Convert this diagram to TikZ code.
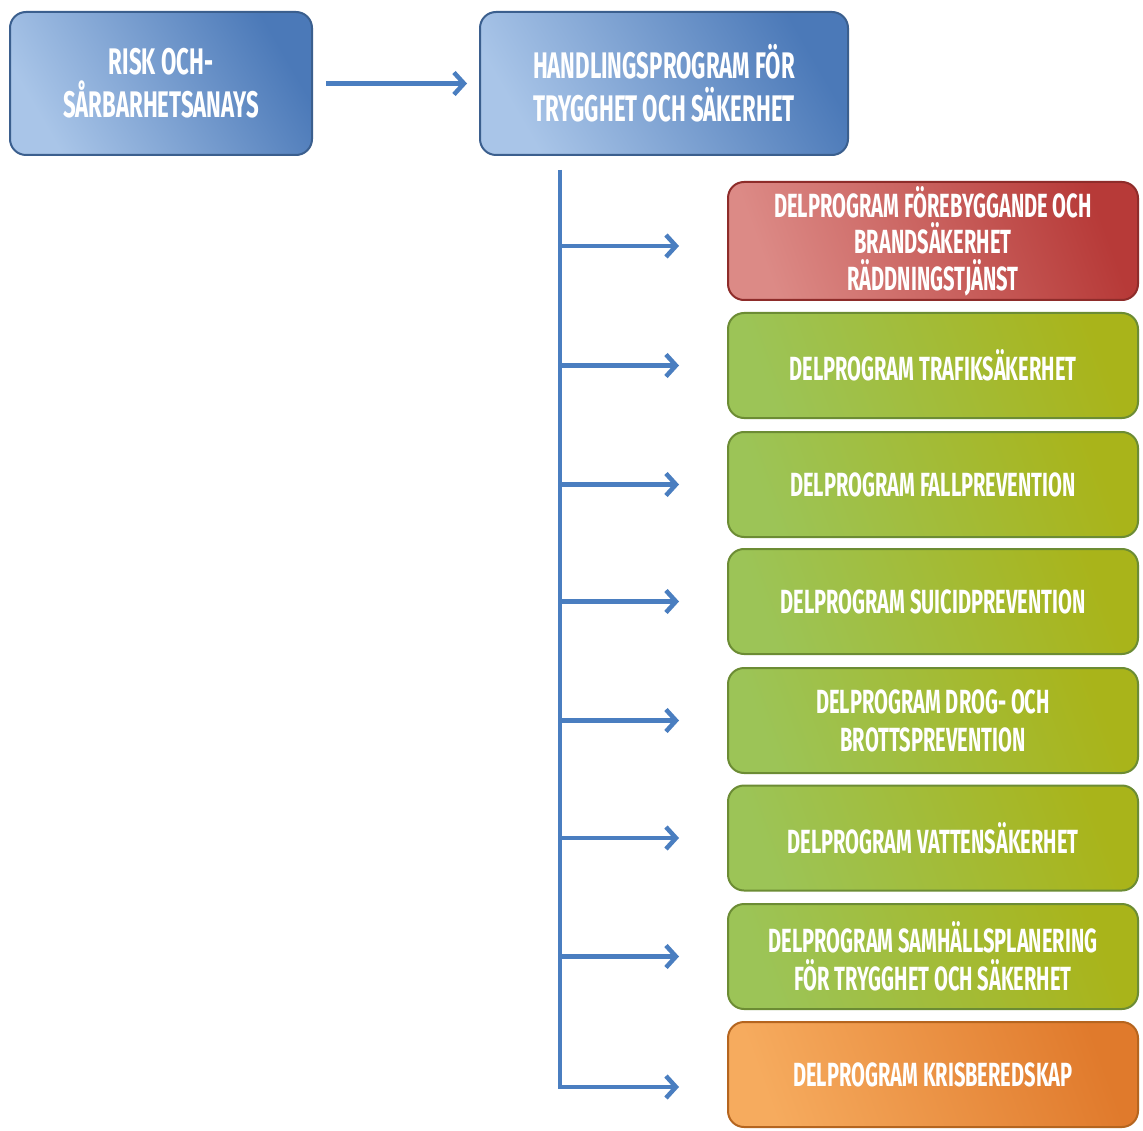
\documentclass[tikz,border=0pt]{standalone}
\usepackage{fontspec}
\setmainfont[FakeStretch=0.6]{Fira Sans}
\usetikzlibrary{arrows.meta}
\definecolor{bluelight}{HTML}{A9C5E8}
\definecolor{bluedark}{HTML}{4B79B8}
\definecolor{blueborder}{HTML}{3B5F8E}
\definecolor{redlight}{HTML}{DC8A86}
\definecolor{reddark}{HTML}{B73A38}
\definecolor{redborder}{HTML}{8E2C2A}
\definecolor{greenlight}{HTML}{9CC457}
\definecolor{greendark}{HTML}{A9B41A}
\definecolor{greenborder}{HTML}{6C8C34}
\definecolor{orangelight}{HTML}{F6AB5E}
\definecolor{orangedark}{HTML}{E07A2C}
\definecolor{orangeborder}{HTML}{B5651F}
\definecolor{arrowblue}{HTML}{4A7EC0}
\tikzset{
  x=1pt, y=-1pt,
  basebox/.style={rounded corners=16pt, line width=2pt, inner sep=0pt, align=center,
    text=white, font=\fontsize{33.5}{38}\selectfont\bfseries, shading=axis},
  bluebox/.style={basebox, draw=blueborder, left color=bluelight, right color=bluedark, shading angle=120,
    font=\fontsize{37}{43}\selectfont\bfseries},
  redbox/.style={basebox, draw=redborder, left color=redlight, right color=reddark, shading angle=110,
    minimum width=410pt, minimum height=118pt, font=\fontsize{33.5}{36.5}\selectfont\bfseries},
  greenbox/.style={basebox, draw=greenborder, left color=greenlight, right color=greendark, shading angle=110,
    minimum width=410pt, minimum height=105pt},
  orangebox/.style={basebox, draw=orangeborder, left color=orangelight, right color=orangedark, shading angle=110,
    minimum width=410pt, minimum height=105pt},
  arr/.style={draw=arrowblue, line width=4.5pt, -{Straight Barb[length=10pt,width=22pt,line width=4.5pt]}},
  trunkline/.style={draw=arrowblue, line width=4pt}
}
\begin{document}
\begin{tikzpicture}
\useasboundingbox[fill=white] (0,0) rectangle (1143,1131);
\node[bluebox, minimum width=302pt, minimum height=143pt] (risk) at (161,83.5) {RISK OCH-\\SÅRBARHETSANAYS};
\node[bluebox, minimum width=368pt, minimum height=143pt] (hp) at (664,83.5) {HANDLINGSPROGRAM FÖR\\TRYGGHET OCH SÄKERHET};
\node[redbox] (d1) at (933,241) {DELPROGRAM FÖREBYGGANDE OCH\\BRANDSÄKERHET\\RÄDDNINGSTJÄNST};
\node[greenbox] (d2) at (933,365.5) {DELPROGRAM TRAFIKSÄKERHET};
\node[greenbox] (d3) at (933,484.5) {DELPROGRAM FALLPREVENTION};
\node[greenbox] (d4) at (933,601.5) {DELPROGRAM SUICIDPREVENTION};
\node[greenbox] (d5) at (933,720.5) {DELPROGRAM DROG- OCH\\BROTTSPREVENTION};
\node[greenbox] (d6) at (933,838) {DELPROGRAM VATTENSÄKERHET};
\node[greenbox] (d7) at (933,956.5) {DELPROGRAM SAMHÄLLSPLANERING\\FÖR TRYGGHET OCH SÄKERHET};
\node[orangebox] (d8) at (933,1074.5) {DELPROGRAM KRISBEREDSKAP};
\draw[arr, shorten <=13pt, shorten >=12pt] (risk) -- (hp);
\coordinate (top) at (560,170);
\coordinate (j1) at (560,246);
\coordinate (j2) at (560,365.5);
\coordinate (j3) at (560,484.5);
\coordinate (j4) at (560,601.5);
\coordinate (j5) at (560,720.5);
\coordinate (j6) at (560,838);
\coordinate (j7) at (560,956.5);
\coordinate (j8) at (560,1087);
\draw[trunkline] (top) -- ([yshift=2pt]j8);
\foreach \i in {1,...,8}{
  \draw[arr, shorten >=48pt] ([xshift=-2pt]j\i) -- (j\i -| d\i.west);
}
\end{tikzpicture}
\end{document}
